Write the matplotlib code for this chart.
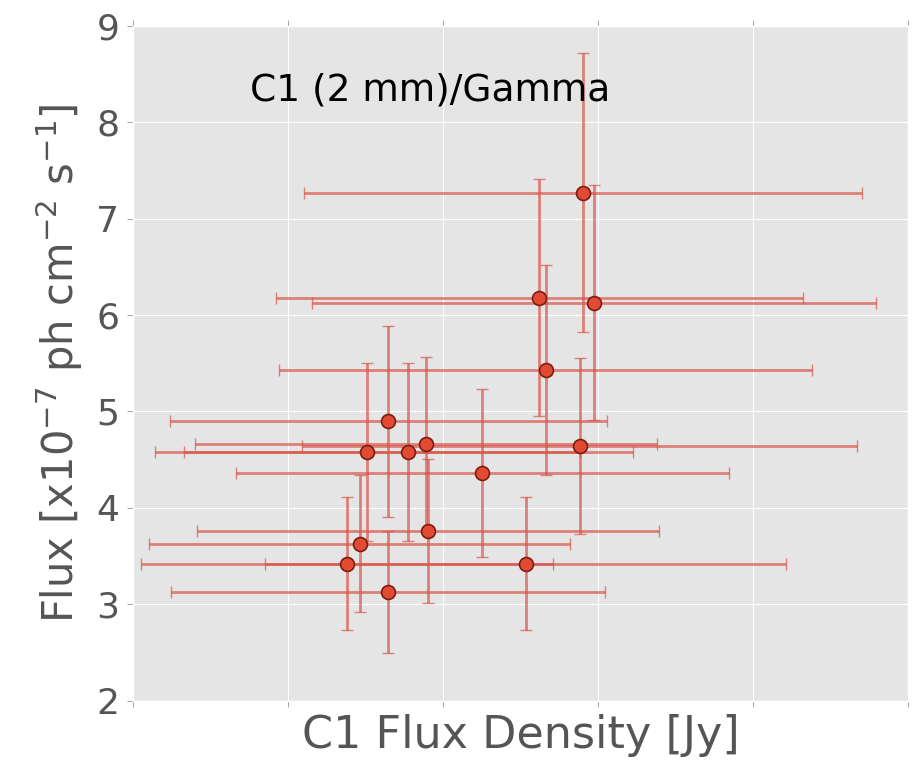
import matplotlib
matplotlib.use("Agg")
import matplotlib.pyplot as plt

# data
x_flux = [2.90, 2.62, 2.97, 2.66, 1.645, 1.51, 1.775, 1.89, 2.88, 2.25, 1.90, 1.46, 1.38, 2.53, 1.645]
x_err = [1.80, 1.70, 1.82, 1.72, 1.41, 1.37, 1.45, 1.49, 1.79, 1.59, 1.49, 1.36, 1.33, 1.68, 1.40]
y_flux = [7.27, 6.18, 6.13, 5.43, 4.90, 4.58, 4.58, 4.66, 4.64, 4.36, 3.76, 3.63, 3.42, 3.42, 3.13]
y_err = [1.45, 1.23, 1.22, 1.09, 0.99, 0.92, 0.92, 0.90, 0.91, 0.87, 0.75, 0.71, 0.69, 0.69, 0.63]

plt.style.use("ggplot")
fig = plt.figure(figsize=(9.13, 7.6), dpi=100)
ax = fig.add_axes([0.146, 0.078, 0.849, 0.888])

ax.errorbar(x_flux, y_flux, xerr=x_err, yerr=y_err, fmt="none",
            ecolor="#D9544A", elinewidth=2, capsize=4, alpha=0.7, zorder=2)
ax.plot(x_flux, y_flux, "o", color="#E24A33", markeredgecolor="#7a1f10",
        markeredgewidth=1.2, markersize=10, zorder=3)

ax.set_xlim(0, 5)
ax.set_ylim(2, 9)
ax.set_xticks([0, 1, 2, 3, 4, 5])
ax.set_xticklabels([])
ax.set_yticks(range(2, 10))
ax.tick_params(axis="y", labelsize=26, labelcolor="#555555", pad=6)
ax.tick_params(axis="both", direction="out", length=4, color="#aaaaaa",
               top=True)

ax.set_xlabel("C1 Flux Density [Jy]", fontsize=32, color="#555555",
              labelpad=2)
ax.set_ylabel("Flux [x10$^{-7}$ ph cm$^{-2}$ s$^{-1}$]", fontsize=30,
              color="#555555", labelpad=8)
ax.text(0.15, 0.89, "C1 (2 mm)/Gamma", transform=ax.transAxes,
        fontsize=27, color="black")

plt.savefig("out.png")
